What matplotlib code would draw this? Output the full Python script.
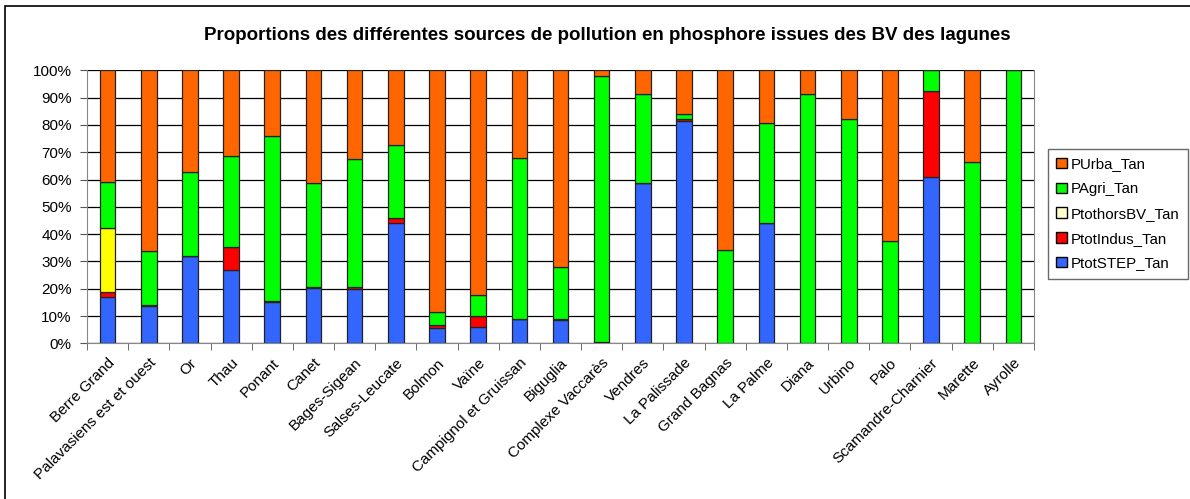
import numpy as np
import matplotlib.pyplot as plt
from matplotlib.patches import Patch, Rectangle

# lagoons
lagunes = ['Berre Grand', 'Palavasiens est et ouest', 'Or', 'Thau', 'Ponant', 'Canet',
           'Bages-Sigean', 'Salses-Leucate', 'Bolmon', 'Vaïne', 'Campignol et Gruissan',
           'Biguglia', 'Complexe Vaccarès', 'Vendres', 'La Palissade', 'Grand Bagnas',
           'La Palme', 'Diana', 'Urbino', 'Palo', 'Scamandre-Charnier', 'Marette', 'Ayrolle']

# proportions in %
ptot_step = [16.8, 13.7, 31.9, 26.7, 15.0, 20.4, 19.8, 44.2, 5.5, 6.1, 8.9, 8.5, 0.6,
             58.6, 81.6, 0, 44.1, 0, 0, 0, 60.9, 0, 0]
ptot_indus = [1.9, 0.5, 0.2, 8.5, 0.4, 0.3, 1.0, 1.8, 1.1, 3.8, 0.1, 0.4, 0,
              0, 0.7, 0, 0, 0, 0, 0, 31.4, 0, 0]
ptot_horsbv = [23.4, 0, 0, 0, 0, 0, 0, 0, 0, 0, 0, 0, 0,
               0, 0, 0, 0, 0, 0, 0, 0, 0, 0]
pagri = [16.9, 19.6, 30.7, 33.3, 60.4, 37.9, 46.7, 26.5, 4.8, 7.9, 58.9, 19.2, 97.4,
         32.7, 1.7, 34.2, 36.5, 91.5, 82.1, 37.5, 7.7, 66.5, 100]
purba = [41.0, 66.2, 37.2, 31.5, 24.2, 41.4, 32.5, 27.5, 88.6, 82.2, 32.1, 71.9, 2.0,
         8.7, 16.0, 65.8, 19.4, 8.5, 17.9, 62.5, 0, 33.5, 0]

series = [('PtotSTEP_Tan', ptot_step, '#3366FF'),
          ('PtotIndus_Tan', ptot_indus, '#FF0000'),
          ('PtothorsBV_Tan', ptot_horsbv, '#FFFF00'),
          ('PAgri_Tan', pagri, '#00FF00'),
          ('PUrba_Tan', purba, '#FF6600')]
legend_colors = {'PtothorsBV_Tan': '#FFFFCC'}


def main():
    plt.rcParams['font.family'] = ['Liberation Sans', 'DejaVu Sans']
    fig = plt.figure(figsize=(11.9, 4.99), dpi=100)
    ax = fig.add_axes([87 / 1190, 1 - 343.3 / 499, (1034 - 87) / 1190, (343.3 - 70.3) / 499])

    x = np.arange(len(lagunes))
    bottom = np.zeros(len(lagunes))
    for name, vals, col in series:
        v = np.array(vals, dtype=float)
        ax.bar(x, v, bottom=bottom, width=0.38, color=col, edgecolor='#222222',
               linewidth=0.9, zorder=3)
        bottom += v

    ax.set_xlim(-0.5, len(lagunes) - 0.5)
    ax.set_ylim(0, 100)
    ax.set_yticks(np.arange(0, 101, 10))
    ax.set_yticklabels(['%d%%' % t for t in range(0, 101, 10)], fontsize=11)
    ax.yaxis.grid(True, color='black', linewidth=0.9, zorder=0)
    ax.set_xticks(x)
    ax.set_xticklabels(lagunes, rotation=45, ha='right', va='top', rotation_mode='anchor',
                       fontsize=11)
    ax.set_xticks(np.arange(-0.5, len(lagunes)), minor=True)
    ax.tick_params(axis='x', which='major', length=0, pad=9)
    ax.tick_params(axis='x', which='minor', length=5, color='#555555')
    ax.tick_params(axis='y', length=5, color='#555555', pad=6)
    for s in ax.spines.values():
        s.set_color('#888888')
    ax.spines['top'].set_visible(False)

    handles = [Patch(facecolor=legend_colors.get(n, c), edgecolor='black', label=n)
               for n, v, c in reversed(series)]
    fig.legend(handles=handles, loc='upper left', bbox_to_anchor=(1048 / 1190, 1 - 149 / 499),
               fontsize=10.8, frameon=True, fancybox=False, edgecolor='#444444',
               handlelength=0.7, handleheight=0.7, handletextpad=0.3, labelspacing=0.72,
               borderpad=0.55, borderaxespad=0)

    fig.text(0.51, 1 - 36 / 499, 'Proportions des différentes sources de pollution en phosphore issues des BV des lagunes',
             ha='center', va='center', fontsize=13.5, fontweight='bold')

    # outer chart border
    fig.patches.append(Rectangle((5 / 1190, -0.01), 1.1, 1 - 6 / 499 + 0.01, transform=fig.transFigure,
                                 fill=False, edgecolor='black', linewidth=1.2))

    fig.savefig('out.png', dpi=100)


if __name__ == '__main__':
    main()
